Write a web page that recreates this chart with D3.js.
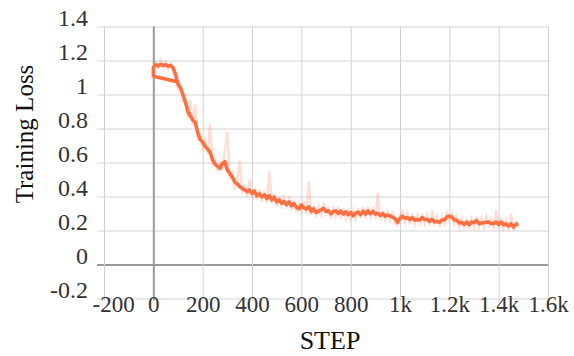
<!DOCTYPE html>
<html>
<head>
<meta charset="utf-8">
<script src="https://cdn.jsdelivr.net/npm/d3@7"></script>
<style>
  html, body { margin: 0; padding: 0; background: #fff; }
  svg { display: block; }
  text { font-family: "Liberation Serif", "DejaVu Serif", serif; }
</style>
</head>
<body>
<svg id="chart" width="574" height="356"></svg>
<script>
// axis ticks
const xTicks = [-200, 0, 200, 400, 600, 800, 1000, 1200, 1400, 1600];
const xTickLabels = ["-200", "0", "200", "400", "600", "800", "1k", "1.2k", "1.4k", "1.6k"];
const yTicks = [-0.2, 0, 0.2, 0.4, 0.6, 0.8, 1, 1.2, 1.4];
const yTickLabels = ["-0.2", "0", "0.2", "0.4", "0.6", "0.8", "1", "1.2", "1.4"];

// first logged points of the run (written before the step counter restarted)
const headSteps = [97, 0];
const headLoss = [1.075, 1.107];

// logged every 10 steps from step 0
const logEvery = 10;
const smoothLoss = [
  1.16, 1.175, 1.168, 1.178, 1.17, 1.176, 1.166, 1.172, 1.158, 1.12,
  1.06, 1.04, 1.0, 0.955, 0.9, 0.875, 0.85, 0.835, 0.775, 0.735,
  0.72, 0.695, 0.68, 0.66, 0.615, 0.59, 0.578, 0.565, 0.595, 0.605,
  0.555, 0.535, 0.515, 0.485, 0.475, 0.458, 0.448, 0.44, 0.428, 0.438,
  0.418, 0.432, 0.404, 0.415, 0.398, 0.41, 0.388, 0.405, 0.38, 0.396,
  0.368, 0.38, 0.36, 0.372, 0.352, 0.368, 0.346, 0.358, 0.336, 0.328,
  0.35, 0.334, 0.326, 0.34, 0.312, 0.328, 0.306, 0.314, 0.322, 0.33,
  0.312, 0.316, 0.298, 0.312, 0.316, 0.3, 0.314, 0.296, 0.31, 0.292,
  0.306, 0.286, 0.302, 0.308, 0.294, 0.314, 0.296, 0.316, 0.298, 0.312,
  0.296, 0.302, 0.288, 0.3, 0.284, 0.29, 0.286, 0.278, 0.27, 0.248,
  0.272, 0.284, 0.272, 0.276, 0.264, 0.276, 0.26, 0.264, 0.262, 0.276,
  0.264, 0.266, 0.254, 0.266, 0.25, 0.254, 0.248, 0.262, 0.262, 0.28,
  0.284, 0.28, 0.262, 0.26, 0.244, 0.248, 0.236, 0.25, 0.234, 0.25,
  0.246, 0.258, 0.24, 0.244, 0.246, 0.248, 0.25, 0.24, 0.242, 0.25,
  0.236, 0.25, 0.234, 0.238, 0.226, 0.24, 0.22, 0.236, 0.24
];
const rawLoss = [
  1.15, 1.19, 1.16, 1.2, 1.16, 1.19, 1.15, 1.18, 1.14, 1.09,
  1.03, 1.06, 0.96, 0.97, 0.86, 0.97, 0.82, 0.94, 0.74, 0.76,
  0.69, 0.73, 0.65, 0.83, 0.59, 0.62, 0.55, 0.6, 0.57, 0.68,
  0.78, 0.5, 0.55, 0.46, 0.5, 0.61, 0.42, 0.47, 0.4, 0.5,
  0.39, 0.45, 0.38, 0.44, 0.37, 0.43, 0.36, 0.55, 0.36, 0.42,
  0.34, 0.4, 0.34, 0.39, 0.33, 0.4, 0.32, 0.38, 0.31, 0.36,
  0.31, 0.37, 0.3, 0.49, 0.29, 0.35, 0.29, 0.34, 0.28, 0.36,
  0.29, 0.34, 0.27, 0.33, 0.28, 0.34, 0.27, 0.33, 0.27, 0.32,
  0.27, 0.32, 0.27, 0.33, 0.27, 0.34, 0.27, 0.33, 0.28, 0.34,
  0.27, 0.42, 0.26, 0.32, 0.26, 0.31, 0.26, 0.31, 0.24, 0.23,
  0.29, 0.31, 0.25, 0.3, 0.24, 0.3, 0.24, 0.29, 0.24, 0.3,
  0.24, 0.29, 0.23, 0.32, 0.23, 0.28, 0.22, 0.28, 0.24, 0.3,
  0.26, 0.3, 0.24, 0.28, 0.22, 0.27, 0.21, 0.27, 0.21, 0.27,
  0.22, 0.28, 0.22, 0.27, 0.22, 0.28, 0.23, 0.27, 0.21, 0.32,
  0.21, 0.27, 0.21, 0.26, 0.2, 0.3, 0.2, 0.25, 0.22
];

const svg = d3.select("#chart");
const plotLeft = 104, plotRight = 548, plotTop = 26.5, plotBottom = 298.5;
const gridColor = "#d2d2d2";
const zeroColor = "#9a9a9a";
const lineColor = "#ff6e40";

const x = d3.scaleLinear().domain([-200, 1600]).range([plotLeft, plotRight]);
const y = d3.scaleLinear().domain([-0.2, 1.4]).range([plotBottom, plotTop]);

// y grid + labels (gridlines poke out left of the plot as ticks)
const yAxis = svg.append("g")
  .attr("transform", `translate(${plotLeft - 7},0)`)
  .call(d3.axisLeft(y).tickValues(yTicks)
    .tickFormat((d, i) => yTickLabels[i])
    .tickSize(-(plotRight - plotLeft + 7)).tickPadding(9));
yAxis.select(".domain").remove();
yAxis.selectAll(".tick line")
  .attr("stroke", d => d === 0 ? zeroColor : gridColor)
  .attr("stroke-width", d => d === 0 ? 2 : 1);
yAxis.selectAll(".tick text")
  .attr("dy", "-0.05em")
  .attr("fill", "#333")
  .style("font-size", "24px");

// x grid + labels
const xAxis = svg.append("g")
  .attr("transform", `translate(0,${plotTop})`)
  .call(d3.axisBottom(x).tickValues(xTicks)
    .tickFormat((d, i) => xTickLabels[i])
    .tickSize(plotBottom - plotTop + 2));
xAxis.select(".domain").remove();
xAxis.selectAll(".tick line")
  .attr("stroke", d => d === 0 ? zeroColor : gridColor)
  .attr("stroke-width", d => d === 0 ? 2 : 1);
xAxis.selectAll(".tick text")
  .attr("y", 312 - plotTop)
  .attr("dy", 0)
  .attr("fill", "#333")
  .style("font-size", "23px")
  .attr("text-anchor", d => d === -200 ? "start" : "middle")
  .attr("x", d => d === -200 ? -12 : 0);

// series
const rawPts = rawLoss.map((v, i) => [i * logEvery, v]);
const smoothPts = headSteps.map((s, i) => [s, headLoss[i]])
  .concat(smoothLoss.map((v, i) => [i * logEvery, v]));

const line = d3.line().x(d => x(d[0])).y(d => y(d[1]));

svg.append("path")
  .datum(rawPts)
  .attr("fill", "none")
  .attr("stroke", lineColor)
  .attr("stroke-opacity", 0.22)
  .attr("stroke-width", 2.5)
  .attr("d", line);

svg.append("path")
  .datum(smoothPts)
  .attr("fill", "none")
  .attr("stroke", lineColor)
  .attr("stroke-width", 3.5)
  .attr("stroke-linejoin", "round")
  .attr("d", line);

// axis titles
svg.append("text")
  .attr("x", 330).attr("y", 349)
  .attr("text-anchor", "middle")
  .attr("fill", "#111")
  .style("font-size", "26px")
  .text("STEP");

svg.append("text")
  .attr("transform", "translate(33,134) rotate(-90)")
  .attr("text-anchor", "middle")
  .attr("fill", "#111")
  .style("font-size", "25px")
  .text("Training Loss");
</script>
</body>
</html>
